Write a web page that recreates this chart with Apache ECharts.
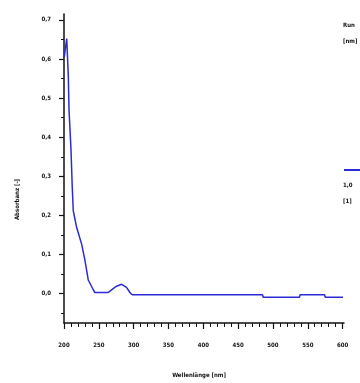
<!DOCTYPE html>
<html>
<head>
<meta charset="utf-8">
<script src="https://cdn.jsdelivr.net/npm/echarts@6/dist/echarts.min.js"></script>
<style>
  html, body { margin: 0; padding: 0; background: #fff; }
  #chart { width: 360px; height: 383px; }
</style>
</head>
<body>
<div id="chart"></div>
<script>
// Absorption spectrum: wavelength (nm) vs absorbance
var wavelengths = [200.4, 203.9, 206.2, 207.2, 210, 211.9, 213.3, 218.2, 225.4, 230, 234.8, 242, 244.4, 263.5, 270.6, 275.5, 282.7, 289.8, 294.6, 297.9, 485, 486, 538, 539, 574, 575, 600.6];
var absorbance  = [0.605, 0.652, 0.555, 0.471, 0.370, 0.270, 0.212, 0.169, 0.126, 0.086, 0.035, 0.010, 0.003, 0.003, 0.013, 0.019, 0.024, 0.016, 0.003, -0.003, -0.003, -0.009, -0.009, -0.003, -0.003, -0.009, -0.009];

var xMajorTicks = [200, 250, 300, 350, 400, 450, 500, 550, 600];
var xMinorTicks = [210, 220, 230, 240, 260, 270, 280, 290, 310, 320, 330, 340, 360, 370, 380, 390, 410, 420, 430, 440, 460, 470, 480, 490, 510, 520, 530, 540, 560, 570, 580, 590];
var yMajorTicks = [0, 0.1, 0.2, 0.3, 0.4, 0.5, 0.6, 0.7];
var yMinorTicks = [-0.05, 0.05, 0.15, 0.25, 0.35, 0.45, 0.55, 0.65];

var seriesName = '1,0';
var xTitle = 'Wellenlänge [nm]';
var yTitle = 'Absorbanz [-]';
var legendHead = 'Run\n[nm]';
var legendSub = '1,0\n[1]';

var pts = wavelengths.map(function (w, i) { return [w, absorbance[i]]; });

var font = 'Liberation Sans Narrow, DejaVu Sans Condensed, sans-serif';
var ink = '#111';
var xMin = 200, xMax = 602, yMin = -0.075, yMax = 0.715;

var chart = echarts.init(document.getElementById('chart'));
chart.setOption({
  animation: false,
  backgroundColor: '#fff',
  grid: { left: 64, right: 16, top: 14, bottom: 56, containLabel: false },
  title: [
    { text: legendHead, left: 343, top: 17, padding: 0,
      textStyle: { fontFamily: font, fontSize: 6, fontWeight: 'bold', color: ink, lineHeight: 16 } },
    { text: legendSub, left: 343, top: 177, padding: 0,
      textStyle: { fontFamily: font, fontSize: 6, fontWeight: 'bold', color: ink, lineHeight: 16 } }
  ],
  legend: {
    left: 344, top: 169, padding: 0,
    itemWidth: 18, itemHeight: 2, icon: 'rect',
    formatter: function () { return ''; },
    data: [seriesName]
  },
  xAxis: [{
    type: 'value', min: xMin, max: xMax,
    name: xTitle, nameLocation: 'middle', nameGap: 49,
    nameTextStyle: { fontFamily: font, fontSize: 6, fontWeight: 'bold', color: ink, padding: [0, 10, 0, 0] },
    axisLine: { show: true, onZero: false, lineStyle: { color: ink, width: 1.5 } },
    axisTick: { show: true, inside: false, length: 6, customValues: xMajorTicks, lineStyle: { color: ink, width: 1.2 } },
    axisLabel: { show: true, customValues: xMajorTicks, margin: 19, fontFamily: font, fontSize: 6, fontWeight: 'bold', color: ink },
    splitLine: { show: false }
  }, {
    type: 'value', min: xMin, max: xMax, position: 'bottom',
    axisLine: { show: false, onZero: false },
    axisTick: { show: true, inside: false, length: 4, customValues: xMinorTicks, lineStyle: { color: ink, width: 1 } },
    axisLabel: { show: false },
    splitLine: { show: false }
  }],
  yAxis: [{
    type: 'value', min: yMin, max: yMax,
    name: yTitle, nameLocation: 'middle', nameGap: 44, nameRotate: 90,
    nameTextStyle: { fontFamily: font, fontSize: 6, fontWeight: 'bold', color: ink, padding: [0, 62, 0, 0] },
    axisLine: { show: true, onZero: false, lineStyle: { color: ink, width: 1.5 } },
    axisTick: { show: true, inside: false, length: 5, customValues: yMajorTicks, lineStyle: { color: ink, width: 1.2 } },
    axisLabel: {
      show: true, customValues: yMajorTicks, margin: 13,
      fontFamily: font, fontSize: 6, fontWeight: 'bold', color: ink,
      formatter: function (v) { return v.toFixed(1).replace('.', ','); }
    },
    splitLine: { show: false }
  }, {
    type: 'value', min: yMin, max: yMax, position: 'left',
    axisLine: { show: false, onZero: false },
    axisTick: { show: true, inside: false, length: 3, customValues: yMinorTicks, lineStyle: { color: ink, width: 1 } },
    axisLabel: { show: false },
    splitLine: { show: false }
  }],
  series: [{
    name: seriesName,
    type: 'line',
    data: pts,
    showSymbol: false,
    smooth: false,
    lineStyle: { color: '#2b2bd6', width: 1.5 },
    itemStyle: { color: '#2b2bd6' }
  }]
});
</script>
</body>
</html>
